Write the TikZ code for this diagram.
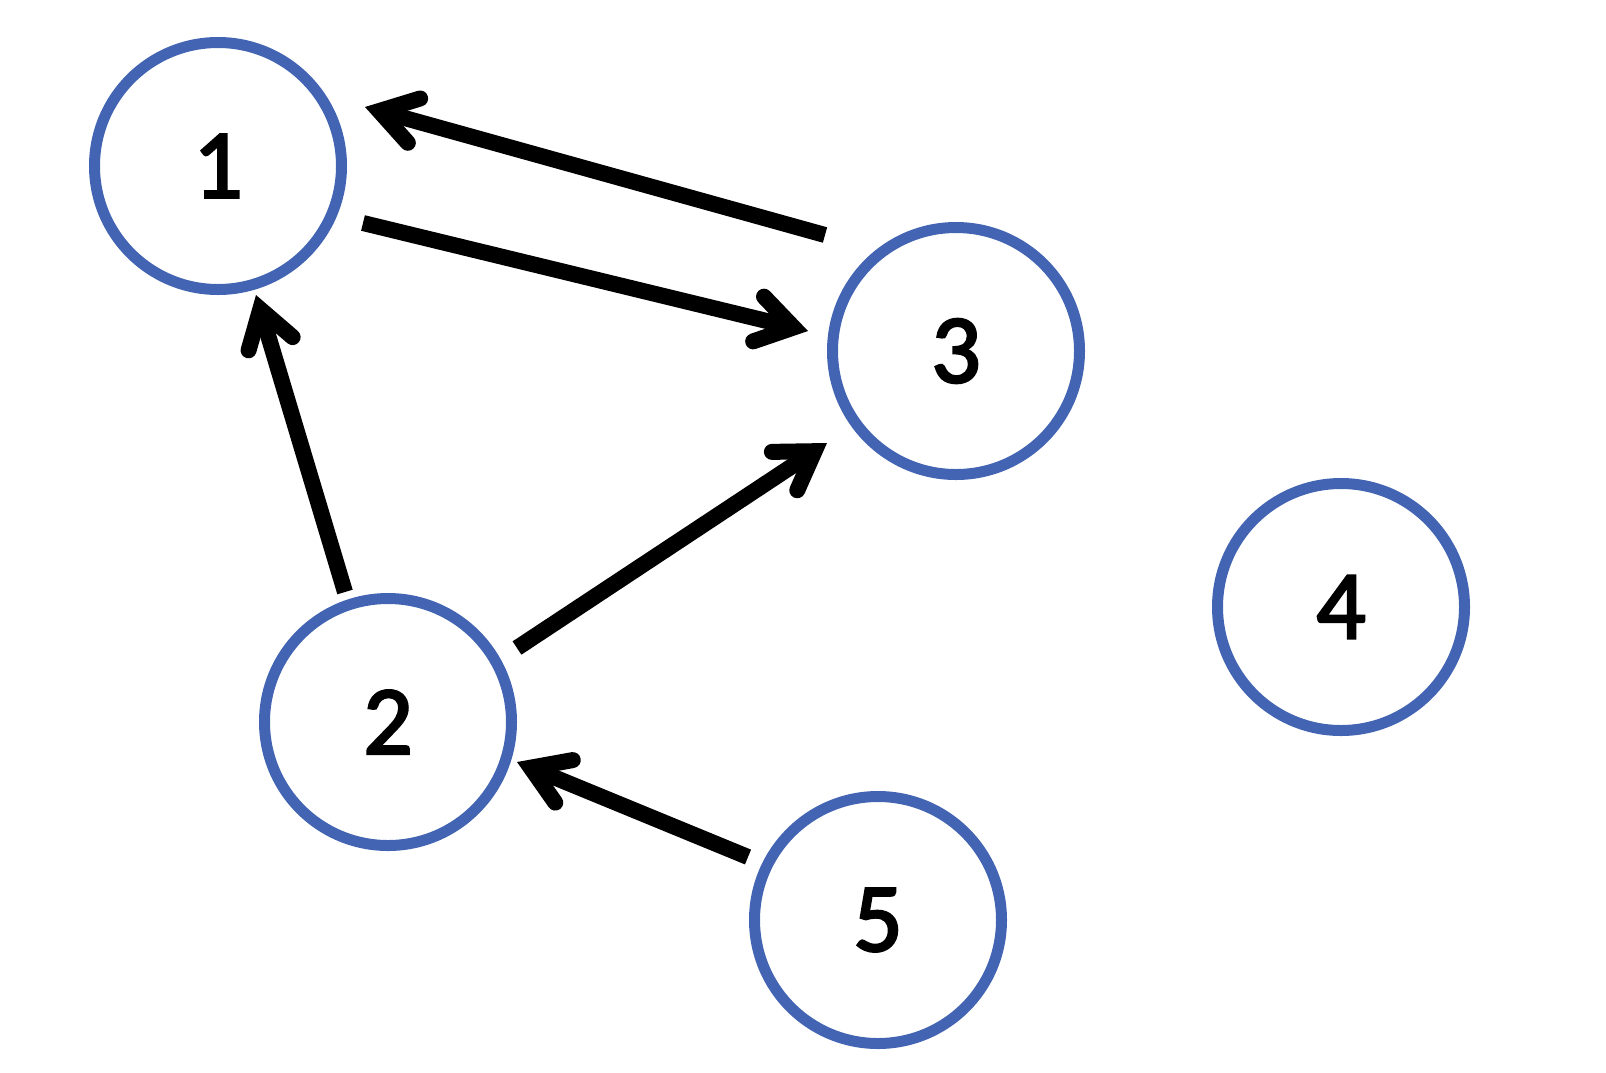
\documentclass[tikz,border=0pt]{standalone}
\usepackage{fontspec}
\setmainfont[FakeBold=2.5]{Carlito}
\usetikzlibrary{arrows.meta}
\definecolor{nodeblue}{RGB}{66,100,178}
\begin{document}
\begin{tikzpicture}[x=1pt,y=-1pt,
  vertex/.style={circle,draw=nodeblue,line width=11pt,minimum size=247pt,inner sep=0pt,
    font=\fontsize{98}{98}\selectfont,text=black},
  edge/.style={line width=16pt,draw=black,
    -{Straight Barb[length=36pt,width=46pt,line join=miter,line cap=round]}}]
\useasboundingbox (0,0) rectangle (1606,1072);
\node[vertex] (n1) at (218,166) {1};
\node[vertex] (n2) at (388,722) {2};
\node[vertex] (n3) at (956,351) {3};
\node[vertex] (n4) at (1341,607) {4};
\node[vertex] (n5) at (878,920) {5};
\draw[edge] ([shift={(-131,-116)}]n3.center) -- ([shift={(147,-59)}]n1.center);
\draw[edge] ([shift={(145,57)}]n1.center) -- ([shift={(-148,-20)}]n3.center);
\draw[edge] ([shift={(-43,-130)}]n2.center) -- ([shift={(38,129)}]n1.center);
\draw[edge] ([shift={(129,-74)}]n2.center) -- ([shift={(-129,92)}]n3.center);
\draw[edge] ([shift={(-130,-63)}]n5.center) -- ([shift={(129,40)}]n2.center);
\end{tikzpicture}
\end{document}
